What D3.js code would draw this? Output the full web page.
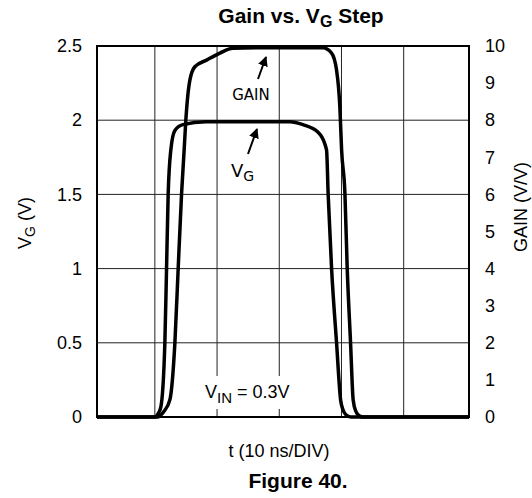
<!DOCTYPE html>
<html>
<head>
<meta charset="utf-8">
<script src="https://cdn.jsdelivr.net/npm/d3@7"></script>
<style>
body { margin: 0; background: #fff; }
svg text { font-family: "Liberation Sans", Arial, sans-serif; fill: #000; }
</style>
</head>
<body>
<div id="vis"></div>
<script>
// V_G step, left axis (V), time in ns
const VG_TIME = [0.7, 10.0, 10.48, 10.96, 11.61, 11.88, 12.14, 12.57, 13.22, 14.5, 18.2, 25.3, 31.7, 33.8, 36.2, 37.6, 37.86, 38.41, 39.21, 39.86, 40.23, 40.71, 41.51, 60.5];
const VG_VOLTS = [0, 0, 0.02, 0.067, 0.5, 1.0, 1.5, 1.8, 1.93, 1.97, 1.99, 1.99, 1.99, 1.97, 1.92, 1.8, 1.5, 1.0, 0.5, 0.115, 0.05, 0.015, 0, 0];

// gain response, right axis (V/V)
const GAIN_TIME = [0.7, 10.48, 10.8, 11.45, 12.41, 13.22, 13.75, 14.29, 14.71, 14.98, 15.63, 16.43, 18.31, 20.45, 22.54, 26.9, 37.0, 38.41, 39.21, 39.74, 40.02, 40.55, 40.92, 41.46, 41.88, 42.32, 42.96, 43.6, 60.5];
const GAIN_VALUES = [0, 0, 0.03, 0.15, 0.46, 2.0, 4.0, 6.0, 7.2, 8.0, 9.08, 9.44, 9.62, 9.81, 9.94, 9.95, 9.95, 9.81, 9.35, 8.36, 7.2, 6.04, 4.02, 2.0, 0.46, 0.15, 0.02, 0, 0];

const VG_TICKS = [0, 0.5, 1, 1.5, 2, 2.5];
const GAIN_TICKS = [0, 1, 2, 3, 4, 5, 6, 7, 8, 9, 10];
const TIME_GRID = [10, 20, 30, 40, 50];

const FRAME_WIDTH = 532;
const FRAME_HEIGHT = 498;
const PLOT = {left: 97, right: 469, top: 46, bottom: 417};

const svg = d3.select("#vis")
  .append("svg")
  .attr("width", FRAME_WIDTH)
  .attr("height", FRAME_HEIGHT);

const x = d3.scaleLinear().domain([0.7, 60.5]).range([PLOT.left, PLOT.right]);
const yLeft = d3.scaleLinear().domain([0, 2.5]).range([PLOT.bottom, PLOT.top]);
const yRight = d3.scaleLinear().domain([0, 10]).range([PLOT.bottom, PLOT.top]);

// grid
svg.append("g")
  .selectAll("line")
  .data(VG_TICKS.slice(1, -1))
  .enter().append("line")
  .attr("x1", PLOT.left).attr("x2", PLOT.right)
  .attr("y1", d => yLeft(d)).attr("y2", d => yLeft(d))
  .attr("stroke", "#222").attr("stroke-width", 1);

svg.append("g")
  .selectAll("line")
  .data(TIME_GRID)
  .enter().append("line")
  .attr("x1", d => x(d)).attr("x2", d => x(d))
  .attr("y1", PLOT.top).attr("y2", PLOT.bottom)
  .attr("stroke", "#222").attr("stroke-width", 1);

// axes, labels only
const leftAxis = svg.append("g")
  .attr("transform", `translate(${PLOT.left},0)`)
  .call(d3.axisLeft(yLeft).tickValues(VG_TICKS).tickFormat(d3.format("")).tickSize(0).tickPadding(15));
leftAxis.select(".domain").remove();

const rightAxis = svg.append("g")
  .attr("transform", `translate(${PLOT.right},0)`)
  .call(d3.axisRight(yRight).tickValues(GAIN_TICKS).tickSize(0).tickPadding(16));
rightAxis.select(".domain").remove();

svg.selectAll(".tick text")
  .attr("font-size", "18px")
  .attr("font-family", "Liberation Sans, Arial, sans-serif")
  .attr("fill", "#000");

// V_IN label with white backing over the grid
svg.append("rect")
  .attr("x", 201).attr("y", 376)
  .attr("width", 96).attr("height", 33)
  .attr("fill", "#fff");

const vin = svg.append("text")
  .attr("x", 205).attr("y", 398)
  .attr("font-size", "18px");
vin.append("tspan").text("V");
vin.append("tspan").attr("font-size", "15px").attr("dy", 5).text("IN");
vin.append("tspan").attr("dy", -5).text(" = 0.3V");

// frame
svg.append("rect")
  .attr("x", PLOT.left).attr("y", PLOT.top)
  .attr("width", PLOT.right - PLOT.left)
  .attr("height", PLOT.bottom - PLOT.top)
  .attr("fill", "none")
  .attr("stroke", "#000")
  .attr("stroke-width", 2);

// curves
const vgData = VG_TIME.map((t, i) => ({t: t, v: VG_VOLTS[i]}));
const gainData = GAIN_TIME.map((t, i) => ({t: t, v: GAIN_VALUES[i]}));

svg.append("path")
  .datum(vgData)
  .attr("fill", "none")
  .attr("stroke", "#000")
  .attr("stroke-width", 3.5)
  .attr("stroke-linejoin", "round")
  .attr("d", d3.line().x(d => x(d.t)).y(d => yLeft(d.v)).curve(d3.curveMonotoneX));

svg.append("path")
  .datum(gainData)
  .attr("fill", "none")
  .attr("stroke", "#000")
  .attr("stroke-width", 3.5)
  .attr("stroke-linejoin", "round")
  .attr("d", d3.line().x(d => x(d.t)).y(d => yRight(d.v)).curve(d3.curveMonotoneX));

// arrows
svg.append("defs").append("marker")
  .attr("id", "head")
  .attr("viewBox", "0 0 10 10")
  .attr("refX", 9).attr("refY", 5)
  .attr("markerWidth", 10).attr("markerHeight", 10)
  .attr("markerUnits", "userSpaceOnUse")
  .attr("orient", "auto")
  .append("path")
  .attr("d", "M0,0 L10,5 L0,10 Z")
  .attr("fill", "#000");

svg.append("line")
  .attr("x1", 258).attr("y1", 79).attr("x2", 266).attr("y2", 57)
  .attr("stroke", "#000").attr("stroke-width", 2)
  .attr("marker-end", "url(#head)");

svg.append("line")
  .attr("x1", 248).attr("y1", 154).attr("x2", 257).attr("y2", 129)
  .attr("stroke", "#000").attr("stroke-width", 2)
  .attr("marker-end", "url(#head)");

svg.append("text")
  .attr("x", 251).attr("y", 100)
  .attr("text-anchor", "middle")
  .attr("font-size", "15px")
  .style("font-family", "DejaVu Sans, sans-serif")
  .text("GAIN");

const vgNote = svg.append("text")
  .attr("x", 231).attr("y", 177)
  .attr("font-size", "18px")
  .style("font-family", "DejaVu Sans, sans-serif");
vgNote.append("tspan").text("V");
vgNote.append("tspan").attr("font-size", "14px").attr("dy", 4).text("G");

// title
const title = svg.append("text")
  .attr("x", 301).attr("y", 23)
  .attr("text-anchor", "middle")
  .attr("font-size", "21px")
  .attr("font-weight", "bold");
title.append("tspan").text("Gain vs. V");
title.append("tspan").attr("font-size", "16px").attr("dy", 4).text("G");
title.append("tspan").attr("dy", -4).text(" Step");

// axis titles
const leftTitle = svg.append("text")
  .attr("transform", "translate(31,223) rotate(-90)")
  .attr("text-anchor", "middle")
  .attr("font-size", "18px");
leftTitle.append("tspan").text("V");
leftTitle.append("tspan").attr("font-size", "14px").attr("dy", 4).text("G");
leftTitle.append("tspan").attr("dy", -4).text(" (V)");

svg.append("text")
  .attr("transform", "translate(527,207) rotate(-90)")
  .attr("text-anchor", "middle")
  .attr("font-size", "18px")
  .text("GAIN (V/V)");

svg.append("text")
  .attr("x", 279).attr("y", 457)
  .attr("text-anchor", "middle")
  .attr("font-size", "18px")
  .text("t (10 ns/DIV)");

svg.append("text")
  .attr("x", 298).attr("y", 488)
  .attr("text-anchor", "middle")
  .attr("font-size", "21px")
  .attr("font-weight", "bold")
  .text("Figure 40.");
</script>
</body>
</html>
